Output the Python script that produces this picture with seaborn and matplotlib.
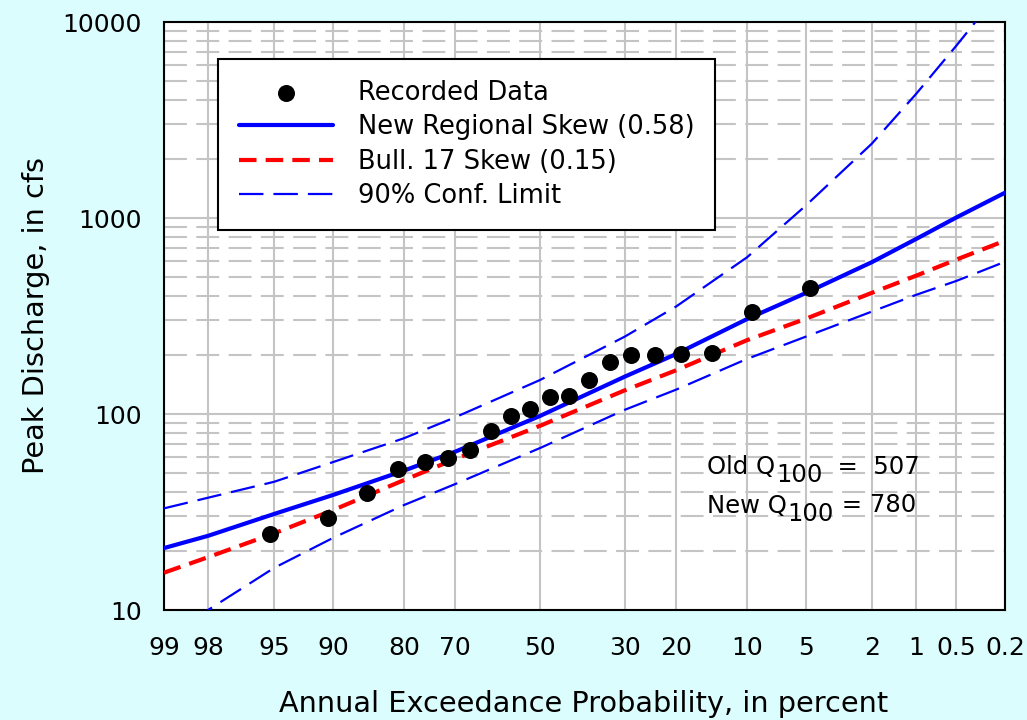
import numpy as np
import pandas as pd
import matplotlib
matplotlib.use("Agg")
import matplotlib.pyplot as plt
import seaborn as sns
from statistics import NormalDist
from matplotlib.ticker import FixedLocator, FixedFormatter, LogLocator, NullFormatter, NullLocator

# ---------------- data ----------------
tick_probs = [99, 98, 95, 90, 80, 70, 50, 30, 20, 10, 5, 2, 1, 0.5, 0.2]
tick_labels = ["99", "98", "95", "90", "80", "70", "50", "30", "20", "10", "5", "2", "1", "0.5", "0.2"]

recorded_prob = [95.24, 90.48, 85.71, 80.95, 76.19, 71.43, 66.67, 61.90, 57.14, 52.38,
                 47.62, 42.86, 38.10, 33.33, 28.57, 23.81, 19.05, 14.29, 9.52, 4.76]
recorded_q = [24.4, 29.5, 39.5, 52.4, 56.9, 59.7, 65.5, 81.9, 97.7, 106,
              122, 124, 149, 184, 200, 200, 202, 205, 331, 439]

curve_prob = [99, 98, 95, 90, 80, 70, 50, 30, 20, 10, 5, 2, 1, 0.5, 0.2]
new_skew_q = [20.7, 23.9, 30.9, 38.6, 51.4, 64.2, 97.7, 155, 202, 305, 414, 595, 780, 1005, 1346]
b17_skew_q = [15.5, 18.6, 24.6, 32.3, 46.0, 58.9, 87.0, 132, 167, 238, 306, 415, 507, 613, 766]
upper_conf_q = [33.0, 37.4, 45.1, 56.8, 75.2, 96.2, 149, 248, 353, 630, 1156, 2394, 4280, 7550, 15400]
lower_conf_q = [6.9, 10.0, 16.4, 23.3, 34.3, 43.9, 67.0, 105, 133, 191, 248, 333, 405, 477, 598]

legend_order = ["Recorded Data", "New Regional Skew (0.58)", "Bull. 17 Skew (0.15)", "90% Conf. Limit"]

# ---------------- style ----------------
sns.set_theme(style="white")
plt.rcParams["font.family"] = ["DejaVu Sans"]

BG = "#dcfdfd"
GRID = "#c4c4c4"

fig = plt.figure(figsize=(10.27, 7.2), dpi=100)
fig.patch.set_facecolor(BG)
ax = fig.add_axes([164 / 1027, 1 - 610 / 720, 841 / 1027, 588 / 720])
ax.set_facecolor("white")

_nd = NormalDist()
_ppf = np.vectorize(_nd.inv_cdf, otypes=[float])
_cdf = np.vectorize(_nd.cdf, otypes=[float])


def fwd(p):
    p = np.clip(np.asarray(p, dtype=float), 1e-5, 100 - 1e-5)
    return _ppf(p / 100.0)


def inv(z):
    return _cdf(np.asarray(z, dtype=float)) * 100.0


ax.set_xscale("function", functions=(fwd, inv))
ax.set_yscale("log")

curves = pd.DataFrame({
    "prob": curve_prob,
    "new": new_skew_q,
    "b17": b17_skew_q,
    "upper": upper_conf_q,
    "lower": lower_conf_q,
})
rec = pd.DataFrame({"prob": recorded_prob, "q": recorded_q})

sns.lineplot(data=curves, x="prob", y="upper", ax=ax, color="#0000ff", lw=1.6,
             linestyle=(0, (11, 4.5)), label=legend_order[3], sort=False, zorder=3)
sns.lineplot(data=curves, x="prob", y="lower", ax=ax, color="#0000ff", lw=1.6,
             linestyle=(0, (11, 4.5)), label="_nolegend_", sort=False, zorder=3)
sns.lineplot(data=curves, x="prob", y="b17", ax=ax, color="#ff0000", lw=3.0,
             linestyle=(0, (4.2, 2.2)), label=legend_order[2], sort=False, zorder=4)
sns.lineplot(data=curves, x="prob", y="new", ax=ax, color="#0000ff", lw=3.0,
             label=legend_order[1], sort=False, zorder=4)
sns.scatterplot(data=rec, x="prob", y="q", ax=ax, color="black", s=150, linewidth=0,
                label=legend_order[0], zorder=6)

ax.set_xlim(99, 0.2)
ax.set_ylim(10, 10000)

ax.xaxis.set_major_locator(FixedLocator(tick_probs))
ax.xaxis.set_major_formatter(FixedFormatter(tick_labels))
ax.xaxis.set_minor_locator(NullLocator())
ax.yaxis.set_major_locator(FixedLocator([10, 100, 1000, 10000]))
ax.yaxis.set_major_formatter(FixedFormatter(["10", "100", "1000", "10000"]))
ax.yaxis.set_minor_locator(LogLocator(base=10, subs=np.arange(2, 10)))
ax.yaxis.set_minor_formatter(NullFormatter())

ax.set_axisbelow(True)
ax.grid(True, which="major", axis="both", color=GRID, lw=1.5, ls="-")
ax.grid(True, which="minor", axis="y", color=GRID, lw=1.5, ls=(0, (11, 4.5)))

ax.tick_params(axis="both", which="major", direction="out", length=7, width=1.5,
               color="black", labelsize=18, labelcolor="black")
ax.tick_params(axis="x", which="major", pad=12)
ax.tick_params(axis="y", which="major", pad=9)
ax.tick_params(axis="both", which="minor", length=0)
for s in ax.spines.values():
    s.set_color("black")
    s.set_linewidth(1.5)
    s.set_visible(True)

ax.set_xlabel("Annual Exceedance Probability, in percent", fontsize=20.7, color="black")
ax.set_ylabel("Peak Discharge, in cfs", fontsize=20.7, color="black")
ax.xaxis.set_label_coords(0.4994, -0.136)
ax.yaxis.set_label_coords(-0.135, 0.5)

# legend
h, l = ax.get_legend_handles_labels()
hmap = dict(zip(l, h))
leg = ax.legend([hmap[k] for k in legend_order], legend_order, loc="upper left",
                bbox_to_anchor=((218 - 164) / 841, (610 - 59) / 588), borderaxespad=0,
                fontsize=18.5, frameon=True, fancybox=False, framealpha=1,
                edgecolor="black", handlelength=3.68, handletextpad=0.95,
                labelspacing=0.33, borderpad=0.8)
leg.get_frame().set_linewidth(1.5)
for t in leg.get_texts():
    t.set_color("black")


# Q100 annotations
def q_note(x, y, word, rest):
    t1 = ax.text(x, y, word, transform=ax.transAxes, fontsize=17.5, va="bottom", color="black")
    t2 = ax.annotate("100", xy=(1, 0), xycoords=t1, xytext=(0.5, -5.8),
                     textcoords="offset points", fontsize=17.5, va="bottom", ha="left", color="black")
    ax.annotate(rest, xy=(1, 0), xycoords=(t2, t1), xytext=(0, 0),
                textcoords="offset points", fontsize=17.5, va="bottom", ha="left", color="black")


q_note((707 - 164) / 841, (610 - 479) / 588, "Old Q", "  =  507")
q_note((707 - 164) / 841, (610 - 517.5) / 588, "New Q", " = 780")

fig.savefig("out.png", dpi=100, facecolor=BG)
